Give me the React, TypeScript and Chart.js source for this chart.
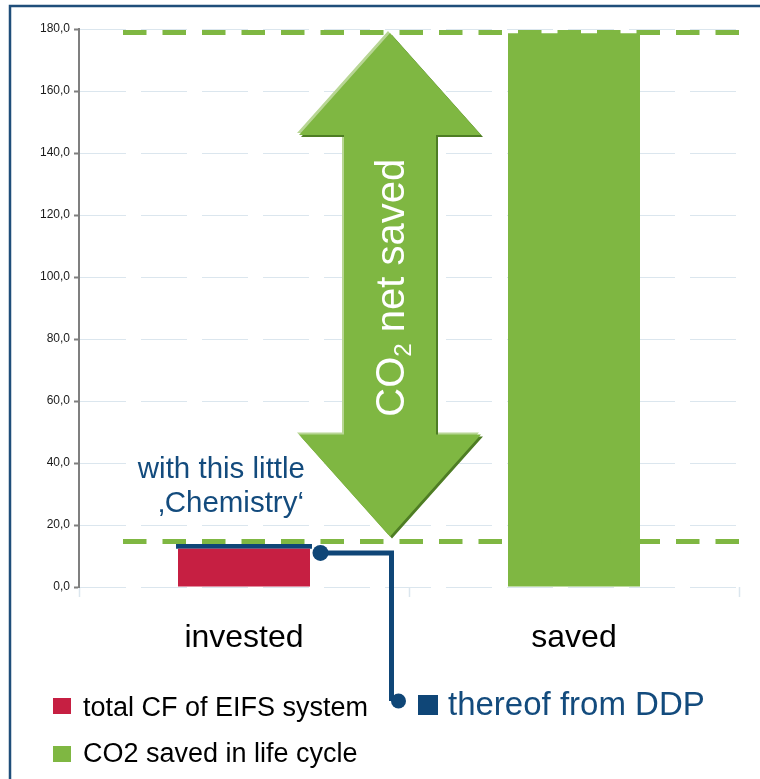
import React, { useEffect, useRef } from 'react';
import { Chart, registerables } from 'chart.js';

Chart.register(...registerables);

// ---- data ----
const categories = ['invested', 'saved'];
const totalCF = [12.3, null];
const thereofDDP = [1.6, null];
const co2Saved = [null, 178.6];
const referenceLevels = [14.7, 178.9];
const yTickMin = 0;
const yTickMax = 180;
const yTickStep = 20;
const legendLabels = ['total CF of EIFS system', 'CO2 saved in life cycle', 'thereof from DDP'];
const noteLines = ['with this little', '\u201AChemistry\u2018'];
const arrowTextParts = ['CO', '2', ' net saved'];

// ---- styles ----
const FONT = '"Liberation Sans", Arial, Helvetica, sans-serif';
const RED = '#c61f42';
const GREEN = '#7fb742';
const NAVY = '#0f4677';
const NOTE_BLUE = '#134b7d';
const GRID = '#dbe6ee';

const overlayPlugin = {
  id: 'overlay',
  afterDatasetsDraw(chart: any) {
    const { ctx, chartArea, scales } = chart;
    const y = scales.y;
    const L = chartArea.left;
    const R = chartArea.right;
    ctx.save();

    // dashed green reference lines
    ctx.strokeStyle = GREEN;
    ctx.lineWidth = 5;
    ctx.setLineDash([23.5, 16]);
    referenceLevels.forEach((v) => {
      const py = y.getPixelForValue(v);
      ctx.beginPath();
      ctx.moveTo(L + 44, py);
      ctx.lineTo(R, py);
      ctx.stroke();
    });
    ctx.setLineDash([]);

    // double arrow
    const cx = L + 311;
    const topTip = y.getPixelForValue(referenceLevels[1]) + 0.5;
    const botTip = y.getPixelForValue(referenceLevels[0]) - 5;
    const headLen = 102;
    const headHalf = 91;
    const shaftHalf = 46;
    const pts = [
      [cx, topTip],
      [cx + headHalf, topTip + headLen],
      [cx + shaftHalf, topTip + headLen],
      [cx + shaftHalf, botTip - headLen],
      [cx + headHalf, botTip - headLen],
      [cx, botTip],
      [cx - headHalf, botTip - headLen],
      [cx - shaftHalf, botTip - headLen],
      [cx - shaftHalf, topTip + headLen],
      [cx - headHalf, topTip + headLen],
    ];
    const poly = (dx: number, dy: number, color: string) => {
      ctx.beginPath();
      pts.forEach(([px, py], i) => {
        if (i === 0) ctx.moveTo(px + dx, py + dy);
        else ctx.lineTo(px + dx, py + dy);
      });
      ctx.closePath();
      ctx.fillStyle = color;
      ctx.fill();
    };
    poly(-2, -2, '#b8d694');
    poly(2, 2, '#4e7d24');
    poly(0, 0, GREEN);

    // arrow text (rotated)
    const midY = (topTip + headLen + botTip - headLen) / 2 + 3;
    ctx.save();
    ctx.translate(cx + 14, midY);
    ctx.rotate(-Math.PI / 2);
    ctx.fillStyle = '#ffffff';
    ctx.textAlign = 'left';
    ctx.textBaseline = 'alphabetic';
    const bigFont = `40px ${FONT}`;
    const subFont = `24px ${FONT}`;
    ctx.font = bigFont;
    const w0 = ctx.measureText(arrowTextParts[0]).width;
    const w2 = ctx.measureText(arrowTextParts[2]).width;
    ctx.font = subFont;
    const w1 = ctx.measureText(arrowTextParts[1]).width;
    let x0 = -(w0 + w1 + w2) / 2;
    ctx.font = bigFont;
    ctx.fillText(arrowTextParts[0], x0, 0);
    x0 += w0;
    ctx.font = subFont;
    ctx.fillText(arrowTextParts[1], x0, 7);
    x0 += w1;
    ctx.font = bigFont;
    ctx.fillText(arrowTextParts[2], x0, 0);
    ctx.restore();

    // note text with white backing
    ctx.fillStyle = '#ffffff';
    ctx.fillRect(L + 52, 452, 178, 70);
    ctx.fillStyle = NOTE_BLUE;
    ctx.font = `29.5px ${FONT}`;
    ctx.textAlign = 'right';
    ctx.textBaseline = 'alphabetic';
    ctx.fillText(noteLines[0], L + 226, 478);
    ctx.fillText(noteLines[1], L + 225, 512);

    // connector from DDP bar to legend
    const bar = chart.getDatasetMeta(1).data[0];
    const barRight = bar.x + bar.width / 2;
    const c1x = barRight + 8.5;
    const c1y = bar.y + 9;
    const vx = L + 312.5;
    const legendY = 701;
    ctx.strokeStyle = NAVY;
    ctx.fillStyle = NAVY;
    ctx.lineWidth = 5;
    ctx.beginPath();
    ctx.moveTo(c1x, c1y);
    ctx.lineTo(vx, c1y);
    ctx.lineTo(vx, legendY);
    ctx.stroke();
    ctx.beginPath();
    ctx.arc(c1x, c1y, 8, 0, Math.PI * 2);
    ctx.fill();
    ctx.beginPath();
    ctx.arc(vx + 7, legendY, 7.5, 0, Math.PI * 2);
    ctx.fill();

    ctx.restore();
  },
  afterDraw(chart: any) {
    const { ctx } = chart;
    ctx.save();
    // legend
    ctx.textAlign = 'left';
    ctx.textBaseline = 'alphabetic';
    ctx.font = `27px ${FONT}`;
    ctx.fillStyle = RED;
    ctx.fillRect(53, 698, 18, 16);
    ctx.fillStyle = '#000000';
    ctx.fillText(legendLabels[0], 83, 716);
    ctx.fillStyle = GREEN;
    ctx.fillRect(53, 746, 18, 16);
    ctx.fillStyle = '#000000';
    ctx.fillText(legendLabels[1], 83, 762);
    ctx.fillStyle = NAVY;
    ctx.fillRect(418, 695, 20, 20);
    ctx.fillStyle = NOTE_BLUE;
    ctx.font = `33px ${FONT}`;
    ctx.fillText(legendLabels[2], 448, 715);

    // outer frame (top and left)
    ctx.strokeStyle = '#1f4e7a';
    ctx.lineWidth = 2.5;
    ctx.beginPath();
    ctx.moveTo(10, 779);
    ctx.lineTo(10, 6);
    ctx.lineTo(760, 6);
    ctx.stroke();
    ctx.restore();
  },
};

export default function App() {
  const canvasRef = useRef<HTMLCanvasElement | null>(null);

  useEffect(() => {
    document.body.style.margin = '0';
    const canvas = canvasRef.current;
    if (!canvas) return;
    const chart = new Chart(canvas, {
      type: 'bar',
      data: {
        labels: categories,
        datasets: [
          {
            label: legendLabels[0],
            data: totalCF,
            backgroundColor: RED,
            barPercentage: 0.4,
            categoryPercentage: 1,
          },
          {
            label: legendLabels[2],
            data: thereofDDP,
            backgroundColor: NAVY,
            barPercentage: 0.412,
            categoryPercentage: 1,
          },
          {
            label: legendLabels[1],
            data: co2Saved,
            backgroundColor: GREEN,
            barPercentage: 0.4,
            categoryPercentage: 1,
          },
        ],
      } as any,
      options: {
        animation: false,
        responsive: false,
        maintainAspectRatio: false,
        layout: { padding: { top: 29, left: 0, right: 21, bottom: 132 } },
        plugins: {
          legend: { display: false },
          tooltip: { enabled: false },
          title: { display: false },
        },
        scales: {
          x: {
            stacked: true,
            border: { display: false },
            grid: {
              offset: true,
              drawOnChartArea: false,
              drawTicks: true,
              tickLength: 10,
              tickColor: GRID,
              tickWidth: 1.5,
            },
            ticks: {
              color: '#000000',
              padding: 22,
              font: { size: 32, family: FONT },
            },
            afterFit: (scale: any) => {
              scale.height = 60;
            },
          },
          y: {
            stacked: true,
            min: yTickMin,
            max: yTickMax,
            border: { display: true, color: '#7f7f7f', width: 2, dash: [46, 15] },
            grid: {
              color: GRID,
              lineWidth: 1,
              drawTicks: true,
              tickLength: 5,
              tickColor: '#7f7f7f',
              tickWidth: 2,
            },
            ticks: {
              stepSize: yTickStep,
              padding: 4,
              color: '#1a1a1a',
              font: { size: 12, family: FONT },
              callback: (v: any) => Number(v).toFixed(1).replace('.', ','),
            },
            afterFit: (scale: any) => {
              scale.width = 79;
            },
          },
        },
      } as any,
      plugins: [overlayPlugin],
    });
    return () => chart.destroy();
  }, []);

  return (
    <div style={{ position: 'absolute', left: 0, top: 0, width: 760, height: 779, background: '#fff' }}>
      <canvas ref={canvasRef} width={760} height={779} style={{ display: 'block' }} />
    </div>
  );
}
